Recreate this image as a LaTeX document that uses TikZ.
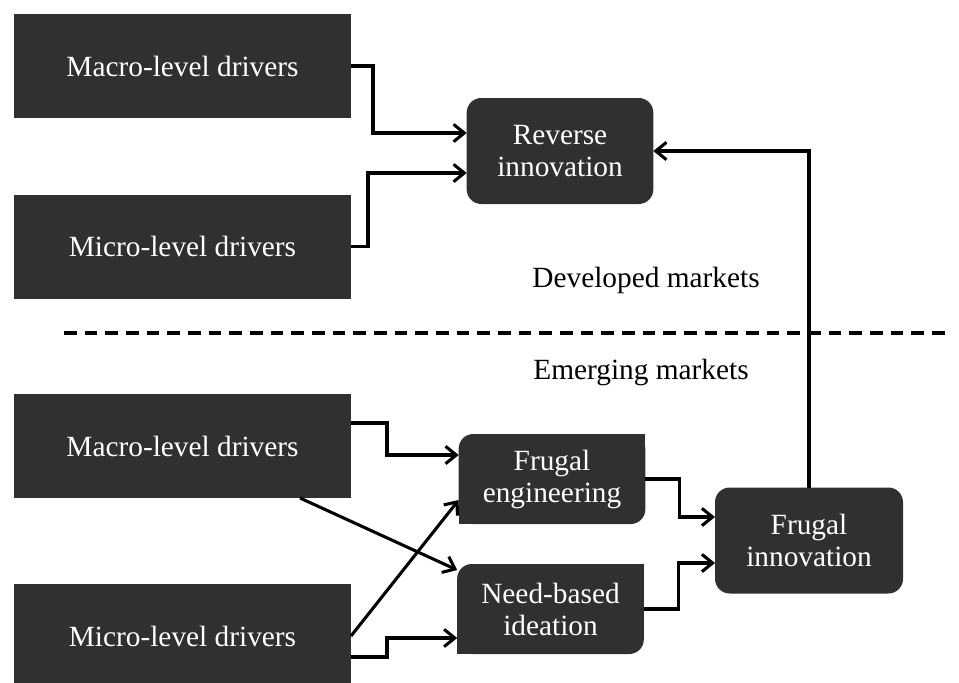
\documentclass[tikz,border=0pt]{standalone}
\usepackage{fontspec}
\setmainfont{Liberation Serif}
\usepackage{tikz}
\usetikzlibrary{arrows.meta, positioning, calc}
\usepackage{xcolor}
\definecolor{boxgray}{RGB}{48,48,48}

\begin{document}
\begin{tikzpicture}[x=0.75pt,y=-0.75pt,line width=2.3pt,>={Straight Barb[length=8pt,width=13pt]}]
    \tikzstyle{driver}=[fill=boxgray,text=white,align=center,outer sep=0pt,minimum width=252.75pt,minimum height=78pt,font=\fontsize{22pt}{24pt}\selectfont]
    \tikzstyle{outcome}=[driver,rounded corners=11pt,minimum width=140pt,minimum height=79.5pt]
    \tikzstyle{mid}=[outcome,minimum height=67.5pt,
        append after command={\pgfextra{%
            \fill[boxgray] (\tikzlastnode.north east) rectangle ([xshift=-12pt,yshift=-12pt]\tikzlastnode.north east);
            \fill[boxgray] (\tikzlastnode.south west) rectangle ([xshift=12pt,yshift=12pt]\tikzlastnode.south west);}}]
    \tikzstyle{market}=[text=black,font=\fontsize{22pt}{24pt}\selectfont]

    \useasboundingbox (0,0) rectangle (959,682);

    \node[driver] (MT) at (182.5,66) {Macro-level drivers};
    \node[driver] (IT) at (182.5,246.5) {Micro-level drivers};
    \node[outcome] (RI) at (560,151) {Reverse\\innovation};
    \node[market] (DM) at (646,280) {Developed markets};
    \node[market] (EM) at (641,372) {Emerging markets};

    \node[driver] (MB) at (182.5,446) {Macro-level drivers};
    \node[driver] (IB) at (182.5,636) {Micro-level drivers};
    \node[mid] (FE) at (552,479) {Frugal\\engineering};
    \node[mid] (NB) at (550.5,609) {Need-based\\ideation};
    \node[outcome,minimum width=141pt] (FI) at (809,540.5) {Frugal\\innovation};

    \coordinate (DL) at (64,333);
    \coordinate (DR) at (952,333);
    \draw[line width=2.4pt,dash pattern=on 9.5pt off 6pt] (DL) -- (DR);

    \draw[->] (MT.east) -- ++(22,0) |- ($(RI.west)+(0,-18)$);
    \draw[->] (IT.east) -- ++(17,0) |- ($(RI.west)+(0,22)$);
    \draw[->] (FI.north) |- (RI.east);

    \draw[->] ($(MB.east)+(0,-23)$) -- ++(36,0) |- ($(FE.west)+(0,-24)$);
    \draw[->] ($(MB.south)+(117.5,0)$) -- ($(NB.west)+(0,-39)$);
    \draw[->] (IB.east) -- ($(FE.west)+(0,21)$);
    \draw[->] ($(IB.east)+(0,21)$) -- ++(36,0) |- ($(NB.west)+(0,29)$);

    \draw[->] (FE.east) -- ++(34,0) |- ($(FI.west)+(0,-23.5)$);
    \draw[->] (NB.east) -- ++(35,0) |- ($(FI.west)+(0,22.5)$);
\end{tikzpicture}
\end{document}
